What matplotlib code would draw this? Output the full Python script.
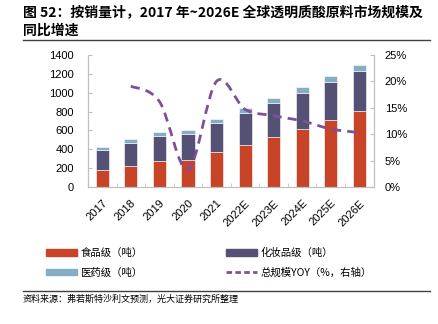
import numpy as np
import matplotlib
matplotlib.use('Agg')
import matplotlib.pyplot as plt
from matplotlib.path import Path
from matplotlib.patches import PathPatch, Patch
from matplotlib.lines import Line2D

plt.rcParams['font.family'] = ['Liberation Sans', 'Noto Sans CJK SC', 'DejaVu Sans']

years = ['2017', '2018', '2019', '2020', '2021', '2022E', '2023E', '2024E', '2025E', '2026E']
food = [185, 225, 272, 290, 375, 442, 527, 612, 707, 806]
cosmetic = [210, 245, 272, 275, 305, 340, 367, 388, 410, 424]
medical = [28, 35, 38, 38, 42, 52, 47, 57, 60, 67]
yoy_years = ['2018', '2019', '2020', '2021', '2022E', '2023E', '2024E', '2025E', '2026E']
yoy = [19.1, 16.2, 3.3, 20.0, 14.7, 13.5, 12.5, 11.0, 10.3]

c_food = '#C84428'
c_cos = '#545174'
c_med = '#86ADC4'
c_line = '#7E509B'
c_axis = '#BFBFBF'
cjk = ['Noto Sans CJK SC', 'DejaVu Sans']


def smooth_path(xs, ys):
    # Catmull-Rom style cubic Bezier through the points
    pts = np.column_stack([xs, ys]).astype(float)
    verts = [pts[0]]
    codes = [Path.MOVETO]
    n = len(pts)
    for i in range(n - 1):
        p0 = pts[max(i - 1, 0)]
        p1 = pts[i]
        p2 = pts[i + 1]
        p3 = pts[min(i + 2, n - 1)]
        verts += [p1 + (p2 - p0) / 6, p2 - (p3 - p1) / 6, p2]
        codes += [Path.CURVE4] * 3
    return Path(verts, codes)


fig = plt.figure(figsize=(4.39, 3.24), dpi=100)
ax = fig.add_axes([0.2005, 0.4228, 0.6505, 0.4075])
x = np.arange(len(years))
w = 0.46
food_a = np.array(food)
cos_a = np.array(cosmetic)
ax.bar(x, food, w, color=c_food, edgecolor='white', linewidth=0.4, zorder=2)
ax.bar(x, cosmetic, w, bottom=food_a, color=c_cos, edgecolor='white', linewidth=0.4, zorder=2)
ax.bar(x, medical, w, bottom=food_a + cos_a, color=c_med, edgecolor='white', linewidth=0.4, zorder=2)

ax.set_xlim(-0.5, len(years) - 0.5)
ax.set_ylim(0, 1400)
ax.set_yticks(range(0, 1401, 200))
ax.set_xticks(x)
ax.set_xticklabels(years, rotation=45, ha='right', rotation_mode='anchor', fontsize=8)
ax.set_xticks(np.arange(-0.5, len(years)), minor=True)
ax.tick_params(axis='x', which='major', length=0, pad=8)
ax.tick_params(axis='x', which='minor', length=3, direction='in', color=c_axis)
ax.tick_params(axis='y', direction='in', length=3, color=c_axis, labelsize=8, pad=10)
for s in ['top']:
    ax.spines[s].set_visible(False)
for s in ['left', 'bottom', 'right']:
    ax.spines[s].set_color(c_axis)

ax2 = ax.twinx()
ax2.set_ylim(0, 25)
ax2.set_yticks(range(0, 26, 5))
ax2.set_yticklabels([f'{v}%' for v in range(0, 26, 5)])
ax2.tick_params(axis='y', direction='in', length=3, color=c_axis, labelsize=8, pad=8)
ax2.spines['top'].set_visible(False)
for s in ['left', 'bottom', 'right']:
    ax2.spines[s].set_color(c_axis)
yx = [years.index(y) for y in yoy_years]
ax2.add_patch(PathPatch(smooth_path(yx, yoy), facecolor='none', edgecolor=c_line,
                        linewidth=2.0, linestyle=(0, (3.3, 2.2)), zorder=3))

# title and rules
fig.text(0.052, 0.962, '图 52：按销量计，2017 年~2026E 全球透明质酸原料市场规模及',
         fontsize=10, fontweight='bold', family=cjk, va='center')
fig.text(0.052, 0.905, '同比增速', fontsize=10, fontweight='bold', family=cjk, va='center')
fig.add_artist(Line2D([0.052, 0.98], [0.877, 0.877], color='#404040', linewidth=1))
fig.add_artist(Line2D([0.052, 0.98], [0.102, 0.102], color='#404040', linewidth=1))
fig.text(0.052, 0.077, '资料来源：弗若斯特沙利文预测，光大证券研究所整理', fontsize=6.5,
         family=cjk, va='center')

handles = [Patch(color=c_food), Patch(color=c_med), Patch(color=c_cos),
           Line2D([], [], color=c_line, linewidth=2, linestyle=(0, (2, 1.2)))]
labels = ['食品级（吨）', '医药级（吨）', '化妆品级（吨）', '总规模YOY（%，右轴）']
fig.legend(handles, labels, ncol=2, loc='upper left', bbox_to_anchor=(0.105, 0.235),
           frameon=False, prop={'family': cjk, 'size': 7.5}, handlelength=3.0,
           handleheight=0.6, handletextpad=0.3, columnspacing=8.0, labelspacing=0.9,
           borderaxespad=0, borderpad=0)

fig.savefig('out.png', dpi=100)
